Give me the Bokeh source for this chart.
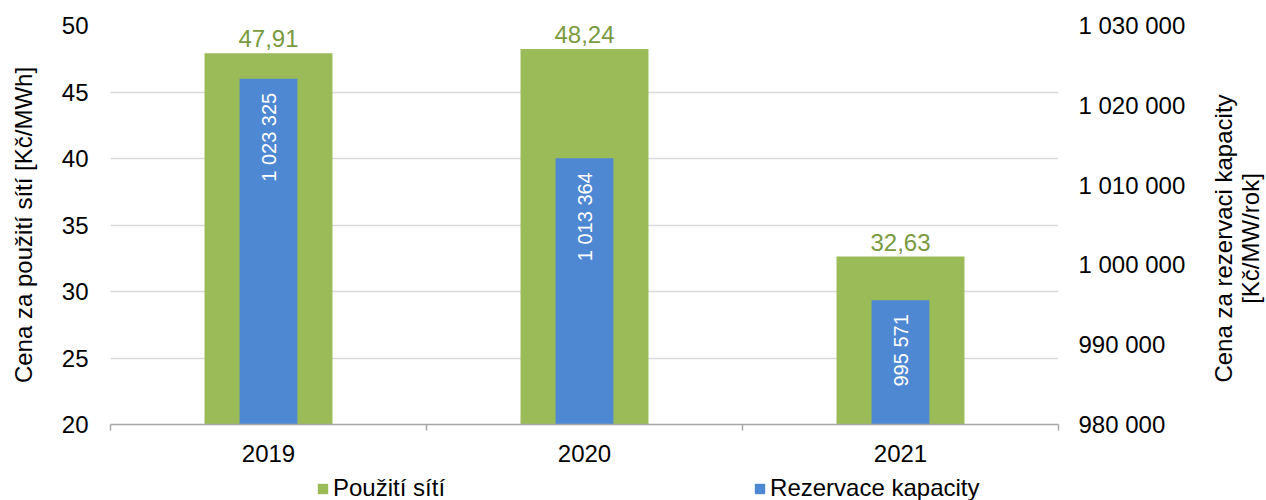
import math
from bokeh.plotting import figure
from bokeh.layouts import row, column
from bokeh.models import (Range1d, LinearAxis, FixedTicker, ColumnDataSource,
                          Legend, LegendItem, Label)
from bokeh.core.properties import value
from bokeh.embed import file_html
from bokeh.resources import INLINE

# ---- data ----
years = ["2019", "2020", "2021"]
pouziti_siti = [47.91, 48.24, 32.63]             # Kč/MWh (left axis)
rezervace_kapacity = [1023325, 1013364, 995571]  # Kč/MW/rok (right axis)
left_ticks = [20, 25, 30, 35, 40, 45, 50]
right_ticks = [980000, 990000, 1000000, 1010000, 1020000, 1030000]
series_names = ["Použití sítí", "Rezervace kapacity"]
left_title = "Cena za použití sítí [Kč/MWh]"
right_title = ["Cena za rezervaci kapacity", "[Kč/MW/rok]"]

FONT = "Liberation Sans"
FS = "24px"
GREEN = "#9BBB59"
BLUE = "#4F88D2"
LABEL_GREEN = "#7A9A40"
GRID = "#D9D9D9"
AXIS = "#A6A6A6"

xs = [i + 0.5 for i in range(len(years))]
src = ColumnDataSource(dict(
    x=xs,
    g=pouziti_siti,
    b=rezervace_kapacity,
    gl=[f"{v:.2f}".replace(".", ",") for v in pouziti_siti],
    bl=[f"{v:,}".replace(",", " ") for v in rezervace_kapacity],
))

p = figure(width=1200, height=470,
           x_range=Range1d(0, len(years)),
           y_range=Range1d(left_ticks[0], left_ticks[-1]),
           output_backend="svg", toolbar_location=None,
           min_border_left=110, min_border_right=142,
           min_border_top=25, min_border_bottom=46,
           outline_line_color=None, background_fill_color="white")
p.extra_y_ranges = {"r": Range1d(right_ticks[0], right_ticks[-1])}

g_r = p.vbar(x="x", top="g", bottom=left_ticks[0], width=0.405, source=src,
             fill_color=GREEN, line_color=None)
b_r = p.vbar(x="x", top="b", bottom=right_ticks[0], width=0.183, source=src,
             fill_color=BLUE, line_color=None, y_range_name="r")

p.text(x="x", y="g", text="gl", source=src, text_font=value(FONT),
       text_font_size=FS, text_color=LABEL_GREEN, text_align="center",
       text_baseline="bottom", y_offset=-6)
p.text(x="x", y="b", text="bl", source=src, y_range_name="r",
       text_font=value(FONT), text_font_size="20px", text_color="white",
       text_align="right", text_baseline="middle", angle=math.pi / 2,
       y_offset=14)

# grid
p.xgrid.visible = False
p.ygrid.ticker = FixedTicker(ticks=left_ticks)
p.ygrid.grid_line_color = GRID
p.ygrid.grid_line_width = 1.5

# x axis
xa = p.xaxis[0]
xa.ticker = FixedTicker(ticks=xs, minor_ticks=list(range(len(years) + 1)))
xa.major_label_overrides = {x: y for x, y in zip(xs, years)}
xa.major_tick_line_color = None
xa.major_tick_out = 0
xa.major_tick_in = 0
xa.minor_tick_line_color = AXIS
xa.minor_tick_out = 6
xa.minor_tick_in = 0
xa.minor_tick_line_width = 1.5
xa.axis_line_color = AXIS
xa.axis_line_width = 1.5
xa.major_label_text_font = FONT
xa.major_label_text_font_size = FS
xa.major_label_text_color = "black"
xa.major_label_standoff = 14

# left axis
ya = p.yaxis[0]
ya.ticker = FixedTicker(ticks=left_ticks)
ya.axis_line_color = None
ya.major_tick_line_color = None
ya.major_tick_out = 0
ya.major_tick_in = 0
ya.minor_tick_line_color = None
ya.major_label_text_font = FONT
ya.major_label_text_font_size = FS
ya.major_label_text_color = "black"
ya.major_label_standoff = 22
ya.axis_label = left_title
ya.axis_label_text_font = FONT
ya.axis_label_text_font_size = FS
ya.axis_label_text_font_style = "normal"
ya.axis_label_text_color = "black"
ya.axis_label_standoff = 22

# right axis
ra = LinearAxis(y_range_name="r", ticker=FixedTicker(ticks=right_ticks))
ra.major_label_overrides = {t: f"{t:,}".replace(",", " ") for t in right_ticks}
ra.axis_line_color = None
ra.major_tick_line_color = None
ra.major_tick_out = 0
ra.major_tick_in = 0
ra.minor_tick_line_color = None
ra.major_label_text_font = FONT
ra.major_label_text_font_size = FS
ra.major_label_text_color = "black"
ra.major_label_standoff = 20
p.add_layout(ra, "right")

# legend strip below the chart (frame aligned with the chart frame)
leg = figure(width=1200, height=30, x_range=Range1d(0, 1), y_range=Range1d(0, 1),
             output_backend="svg", toolbar_location=None,
             min_border=0, outline_line_color=None)
leg.axis.visible = False
leg.grid.visible = False
lg_g = leg.vbar(x="x", top="g", bottom=left_ticks[0], width=0.405, source=src,
                fill_color=GREEN, line_color=None, visible=False)
lg_b = leg.vbar(x="x", top="b", bottom=right_ticks[0], width=0.183, source=src,
                fill_color=BLUE, line_color=None, visible=False)
legend = Legend(items=[LegendItem(label=series_names[0], renderers=[lg_g]),
                       LegendItem(label=series_names[1], renderers=[lg_b])],
                orientation="horizontal", location=(206, -2),
                glyph_width=13, glyph_height=13, label_standoff=4, spacing=308,
                padding=0, margin=0, border_line_color=None,
                background_fill_alpha=0, label_text_font=FONT,
                label_text_font_size=FS, label_text_color="black",
                label_height=20)
leg.add_layout(legend, "center")

# right-hand title panel (reads bottom-to-top, two lines)
t = figure(width=66, height=500, x_range=Range1d(0, 66), y_range=Range1d(0, 500),
           output_backend="svg", toolbar_location=None,
           min_border=0, outline_line_color=None)
t.axis.visible = False
t.grid.visible = False
for i, line in enumerate(right_title):
    t.add_layout(Label(x=23 + 27 * i, y=262, text=line, angle=math.pi / 2,
                       text_align="center", text_baseline="middle",
                       text_font=FONT, text_font_size=FS, text_color="black"))

open("out.html", "w").write(file_html(row(column(p, leg), t), INLINE))
